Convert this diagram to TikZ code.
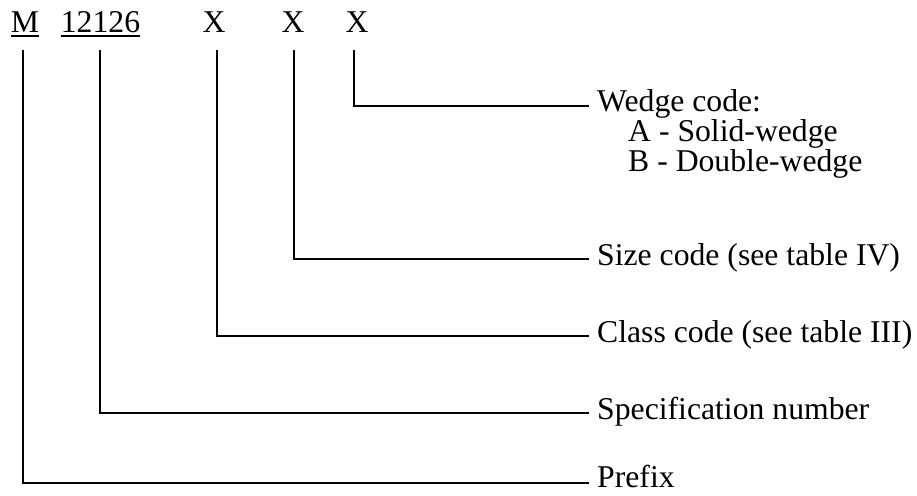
\documentclass[tikz,border=0pt]{standalone}
\usepackage{fontspec}
\setmainfont{Liberation Serif}
\begin{document}
\begin{tikzpicture}[x=1pt,y=-1pt,
  lab/.style={inner sep=0pt,anchor=base west,text height=21pt,text depth=6pt,font=\fontsize{31.7}{36}\selectfont},
  code/.style={inner sep=0pt,anchor=base,font=\fontsize{31.7}{36}\selectfont},
  lead/.style={line width=2.2pt,line join=miter,line cap=butt},
  uline/.style={line width=1.6pt}]
\useasboundingbox[fill=white] (0,0) rectangle (917,495);
% code characters
\node[code] (m)  at (25,33)  {M};
\node[code] (sn) at (100.5,33) {12126};
\node[code] (x1) at (214,33) {X};
\node[code] (x2) at (293,33) {X};
\node[code] (x3) at (357,33) {X};
\draw[uline] ([yshift=-3pt]m.base west) -- ([yshift=-3pt]m.base east);
\draw[uline] ([yshift=-3pt]sn.base west) -- ([yshift=-3pt]sn.base east);
% leader tops
\coordinate (tM) at (23,50);
\coordinate (tS) at (100,50);
\coordinate (t1) at (217,50);
\coordinate (t2) at (294,50);
\coordinate (t3) at (354,50);
% leader ends
\coordinate (eW) at (589,106);
\coordinate (eZ) at (589,259);
\coordinate (eC) at (589,336);
\coordinate (eS) at (589,413);
\coordinate (eP) at (589,483);
% labels
\node[inner sep=0pt,anchor=base west,align=left,font=\fontsize{31.7}{28.5}\selectfont] (wedge) at (597,171)
  {Wedge code:\\\hspace*{31pt}A - Solid-wedge\\\hspace*{31pt}B - Double-wedge};
\node[lab] (size) at (597,265) {Size code (see table IV)};
\node[lab] (class) at (597,342) {Class code (see table III)};
\node[lab] (spec) at (597,419) {Specification number};
\node[lab,text depth=0pt,text height=20pt] (prefix) at (597,487) {Prefix};
% leaders
\draw[lead] (t3) |- (eW);
\draw[lead] (t2) |- (eZ);
\draw[lead] (t1) |- (eC);
\draw[lead] (tS) |- (eS);
\draw[lead] (tM) |- (eP);
\end{tikzpicture}
\end{document}
